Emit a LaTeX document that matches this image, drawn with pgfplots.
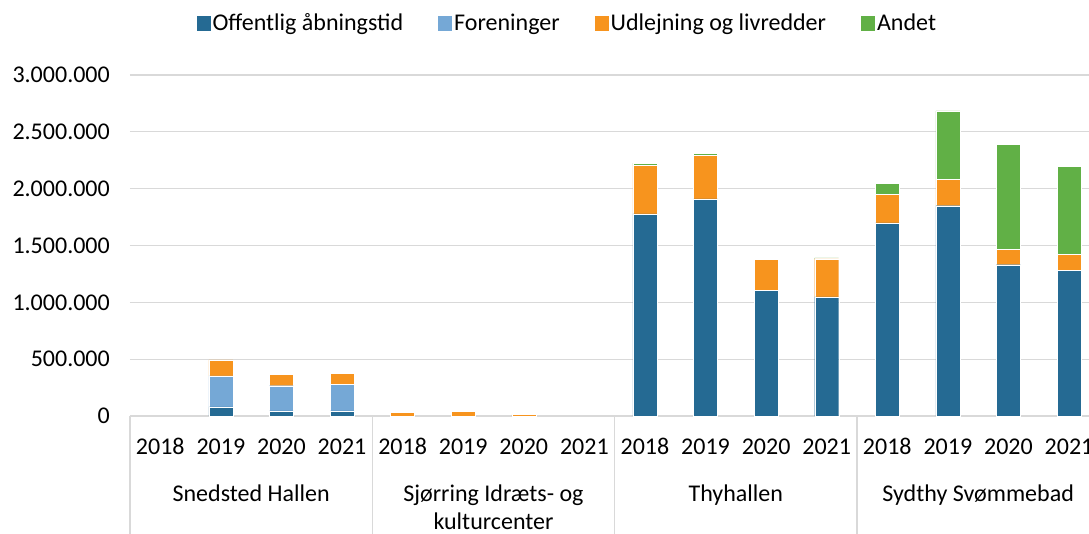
\documentclass[border=0pt]{standalone}
\usepackage{pgfplots}
\pgfplotsset{compat=1.18}
\usepackage{pgfplotstable}
\usepackage{fontspec}
\setmainfont{Carlito}
\definecolor{c1}{HTML}{256A93}
\definecolor{c2}{HTML}{75A8D6}
\definecolor{c3}{HTML}{F7941E}
\definecolor{c4}{HTML}{61B046}
\definecolor{gridc}{HTML}{D9D9D9}
\pgfplotstableread{
x a b c d
0 0 0 0 0
1 80000 272000 141000 0
2 45000 222000 100000 0
3 45000 234000 96000 0
4 0 0 33000 0
5 0 0 44000 0
6 0 0 12000 0
7 0 0 0 0
8 1779000 0 428000 18000
9 1911000 0 384000 18000
10 1108000 0 273000 0
11 1047000 0 336000 8000
12 1700000 0 253000 96000
13 1850000 0 232000 603000
14 1331000 0 135000 924000
15 1284000 0 138000 774000
}\data
\begin{document}
\fontsize{24}{28}\selectfont
\begin{tikzpicture}
\begin{axis}[
  scale only axis, width=959pt, height=341pt,
  xmin=-0.5, xmax=15.33, ymin=0, ymax=3000000,
  ybar stacked, bar width=24pt,
  axis line style={draw=none},
  major tick length=0pt,
  ymajorgrids, grid style={gridc, line width=1.2pt},
  ytick={0,500000,1000000,1500000,2000000,2500000,3000000},
  scaled y ticks=false,
  /pgf/number format/.cd, fixed, precision=0, 1000 sep={.}, assume math mode=true,
  /pgfplots/.cd,
  yticklabel style={xshift=-12pt},
  xtick={0,...,15},
  xticklabels={2018,2019,2020,2021,2018,2019,2020,2021,2018,2019,2020,2021,2018,2019,2020,2021},
  xticklabel style={anchor=base, yshift=-38pt},
  clip=false,
  legend image code/.code={\fill[#1,draw=none] (0pt,-7pt) rectangle (14pt,8pt);},
  legend style={at={(0.456,1.15)}, anchor=center, draw=none, fill=none,
    legend columns=-1, /tikz/every even column/.append style={column sep=33pt},
    cells={anchor=west}},
]
\addplot[fill=c1, draw=white, line width=0.3pt] table[x=x,y=a]{\data};
\addplot[fill=c2, draw=white, line width=0.3pt] table[x=x,y=b]{\data};
\addplot[fill=c3, draw=white, line width=0.3pt] table[x=x,y=c]{\data};
\addplot[fill=c4, draw=white, line width=0.3pt] table[x=x,y=d]{\data};
\legend{Offentlig åbningstid, Foreninger, Udlejning og livredder, Andet}
\foreach \s in {-0.5,3.5,7.5,11.5,15.5}{
  \edef\tmp{\noexpand\draw[gridc, line width=1.2pt] (axis cs:\s,0) -- ++(0pt,-125pt);}\tmp
}
\node[anchor=base] at (axis cs:1.5,0) [yshift=-85pt] {Snedsted Hallen};
\node[anchor=base] at (axis cs:5.5,0) [yshift=-85pt] {Sjørring Idræts- og};
\node[anchor=base] at (axis cs:5.5,0) [yshift=-113pt] {kulturcenter};
\node[anchor=base] at (axis cs:9.5,0) [yshift=-85pt] {Thyhallen};
\node[anchor=base] at (axis cs:13.5,0) [yshift=-85pt] {Sydthy Svømmebad};
\end{axis}
\pgfresetboundingbox
\useasboundingbox (-130pt,-117pt) rectangle (959pt,416pt);
\end{tikzpicture}
\end{document}
